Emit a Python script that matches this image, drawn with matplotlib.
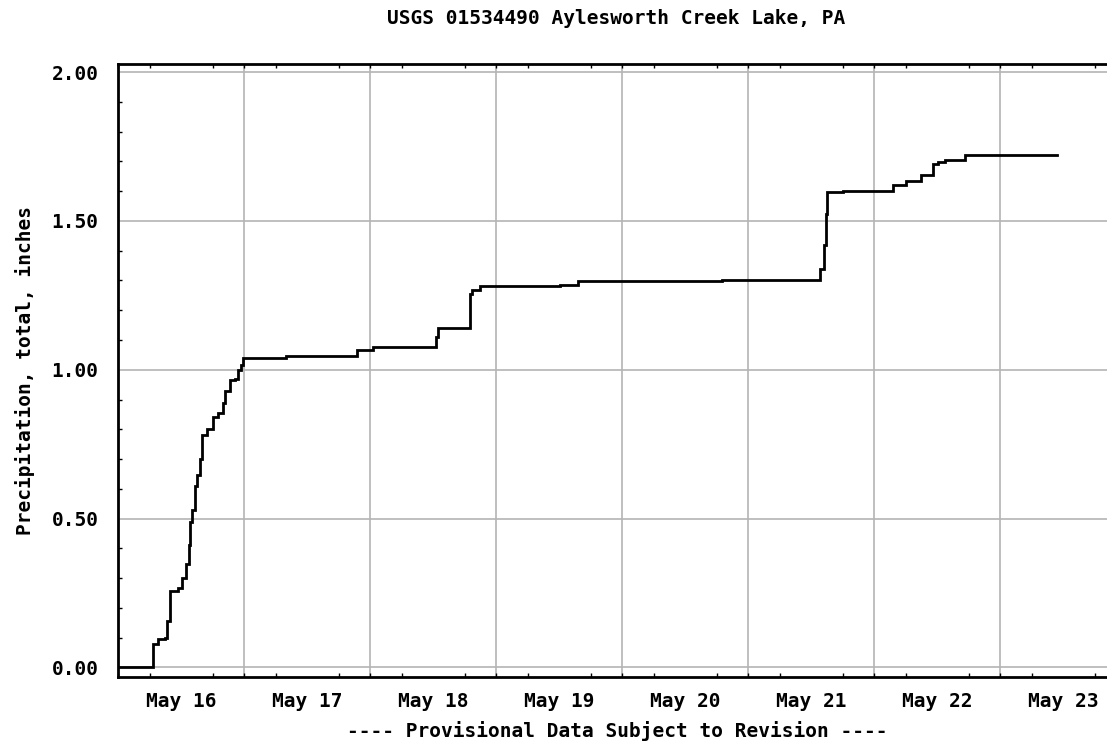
import matplotlib
matplotlib.use("Agg")
import matplotlib.pyplot as plt
from matplotlib.ticker import MultipleLocator, FixedLocator

# ---- data (days since May 16 00:00, cumulative precipitation in inches) ----
time_days = [0.00, 0.24, 0.28, 0.32, 0.37, 0.39, 0.41, 0.48, 0.51, 0.54, 0.56,
             0.57, 0.59, 0.61, 0.63, 0.65, 0.67, 0.71, 0.75, 0.79, 0.83, 0.85,
             0.89, 0.93, 0.95, 0.98, 0.99, 1.33, 1.90, 2.02, 2.52, 2.54, 2.79,
             2.81, 2.87, 3.51, 3.65, 4.79, 5.57, 5.60, 5.62, 5.63, 5.75, 6.15,
             6.25, 6.37, 6.47, 6.51, 6.56, 6.72, 7.45]
precip_in = [0.000, 0.000, 0.080, 0.097, 0.100, 0.156, 0.256, 0.266, 0.300,
             0.346, 0.413, 0.490, 0.530, 0.610, 0.645, 0.700, 0.780, 0.800,
             0.840, 0.855, 0.890, 0.930, 0.965, 0.970, 1.000, 1.015, 1.040,
             1.047, 1.065, 1.076, 1.111, 1.141, 1.256, 1.268, 1.281, 1.286,
             1.298, 1.303, 1.340, 1.419, 1.524, 1.597, 1.600, 1.619, 1.635,
             1.654, 1.691, 1.699, 1.706, 1.721, 1.721]
day_labels = ["May 16", "May 17", "May 18", "May 19", "May 20", "May 21",
              "May 22", "May 23"]
y_ticks = [0.0, 0.5, 1.0, 1.5, 2.0]

title = "USGS 01534490 Aylesworth Creek Lake, PA"
ylabel = "Precipitation, total, inches"
caption = "---- Provisional Data Subject to Revision ----"

FONT = "DejaVu Sans Mono"
FS = 14

fig = plt.figure(figsize=(11.07, 7.55), dpi=100)
W, H = 1107, 755
left_px, right_px, top_px, bot_px = 118, 1109, 64, 677
ax = fig.add_axes([left_px / W, 1 - bot_px / H,
                   (right_px - left_px) / W, (bot_px - top_px) / H])

px_per_day = 126.0
ax.set_xlim(0, (right_px - left_px) / px_per_day)
ax.set_ylim(-0.032, 2.027)

grid_col = "#b4b4b4"
for yv in y_ticks:
    ax.axhline(yv, color=grid_col, lw=1.2, zorder=1)
for i in range(1, len(day_labels)):
    ax.axvline(i, color=grid_col, lw=1.2, zorder=1)

ax.plot(time_days, precip_in, color="black", lw=2.0, drawstyle="steps-post",
        zorder=3, solid_joinstyle="miter")

ax.xaxis.set_major_locator(FixedLocator([i + 0.5 for i in range(len(day_labels))]))
ax.set_xticklabels(day_labels)
ax.xaxis.set_minor_locator(MultipleLocator(0.25))
ax.tick_params(axis="x", which="major", length=0, pad=11)
ax.tick_params(axis="x", which="minor", direction="in", length=3, width=1,
               top=True, bottom=True, color="black")

ax.set_yticks(y_ticks)
ax.set_yticklabels([f"{v:.2f}" for v in y_ticks])
ax.yaxis.set_minor_locator(MultipleLocator(0.1))
ax.tick_params(axis="y", which="major", length=0, pad=14)
ax.tick_params(axis="y", which="minor", direction="in", length=3, width=1,
               color="black")

for lab in ax.get_xticklabels() + ax.get_yticklabels():
    lab.set_fontfamily(FONT)
    lab.set_fontweight("bold")
    lab.set_fontsize(FS)

for side in ["left", "bottom", "top"]:
    ax.spines[side].set_color("black")
    ax.spines[side].set_linewidth(2.0)
ax.spines["right"].set_visible(False)

ax.set_ylabel(ylabel, fontfamily=FONT, fontweight="bold", fontsize=FS,
              labelpad=12)

fig.text(616 / W, 1 - 18 / H, title, ha="center", va="center",
         fontfamily=FONT, fontweight="bold", fontsize=FS)
fig.text(617 / W, 1 - 731 / H, caption, ha="center", va="center",
         fontfamily=FONT, fontweight="bold", fontsize=FS)

fig.savefig("out.png", dpi=100)
